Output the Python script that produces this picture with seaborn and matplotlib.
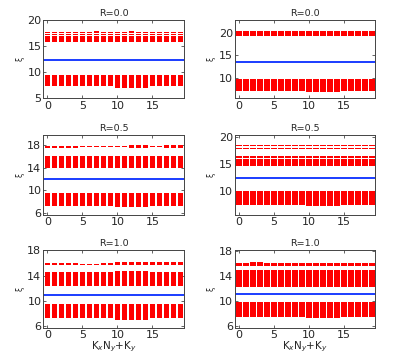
import numpy as np
import pandas as pd
import matplotlib
matplotlib.use("Agg")
import matplotlib.pyplot as plt
import seaborn as sns

sns.set_style("white")
plt.rcParams['font.family'] = ['DejaVu Sans']
plt.rcParams['xtick.direction'] = 'in'
plt.rcParams['ytick.direction'] = 'in'

# momentum index K_x N_y + K_y
k = list(range(20))

titles = ['R=0.0', 'R=0.0', 'R=0.5', 'R=0.5', 'R=1.0', 'R=1.0']
ylims = [(5, 20), (5.3, 23), (5.6, 19.8), (5.5, 20.3), (5.8, 18), (5.7, 18.1)]
yticks = [[5, 10, 15, 20], [10, 15, 20], [6, 10, 14, 18], [10, 15, 20],
          [6, 10, 14, 18], [6, 10, 14, 18]]
gap_level = [12.45, 13.5, 12.05, 12.4, 11.0, 11.15]

# each band: (bottom per k, top per k)
# panel 1 : R=0.0 left
p1_low_bot = [7.3, 7.3, 7.3, 7.3, 7.3, 7.3, 7.3, 7.3, 7.3, 7.3,
              7.0, 7.0, 7.0, 7.0, 7.0, 7.3, 7.3, 7.3, 7.3, 7.3]
p1_low_top = [9.5] * 20
p1_up_bot = [15.8] * 20
p1_up_top = [17.0] * 20
p1_l1_bot = [17.2] * 20
p1_l1_top = [17.35] * 20
p1_l2_bot = [17.5] * 20
p1_l2_top = [17.65, 17.65, 17.65, 17.65, 17.65, 17.65, 17.65, 17.85, 17.65, 17.65,
             17.65, 17.65, 17.85, 17.65, 17.65, 17.65, 17.65, 17.65, 17.65, 17.65]

# panel 2 : R=0.0 right
p2_low_bot = [7.05, 7.05, 7.05, 7.05, 7.05, 7.05, 7.05, 7.05, 7.05, 7.05,
              6.8, 6.8, 6.8, 6.8, 6.8, 7.05, 7.05, 7.05, 7.05, 7.05]
p2_low_top = [9.6] * 20
p2_up_bot = [19.4] * 20
p2_up_top = [20.5] * 20

# panel 3 : R=0.5 left
p3_low_bot = [7.3, 7.3, 7.3, 7.3, 7.3, 7.3, 7.3, 7.3, 7.3, 7.3,
              7.1, 7.1, 7.1, 7.1, 7.1, 7.3, 7.3, 7.3, 7.3, 7.3]
p3_low_top = [9.6] * 20
p3_mid_bot = [14.0] * 20
p3_mid_top = [15.75] * 20
p3_l1_bot = [15.85] * 20
p3_l1_top = [16.1] * 20
p3_l2_bot = [17.55, 17.55, 17.55, 17.55, 17.55, 17.65, 17.65, 17.65, 17.65, 17.65,
             17.65, 17.65, 17.5, 17.5, 17.5, 17.65, 17.65, 17.5, 17.5, 17.5]
p3_l2_top = [17.85, 17.85, 17.85, 17.85, 17.85, 17.85, 17.85, 17.85, 17.85, 17.85,
             17.85, 17.85, 18.05, 18.05, 18.0, 17.85, 17.85, 18.05, 18.1, 18.05]

# panel 4 : R=0.5 right
p4_low_bot = [7.35, 7.35, 7.35, 7.35, 7.35, 7.35, 7.35, 7.35, 7.35, 7.35,
              7.2, 7.2, 7.2, 7.2, 7.2, 7.35, 7.35, 7.35, 7.35, 7.35]
p4_low_top = [9.95] * 20
p4_mid_bot = [14.6] * 20
p4_mid_top = [15.95] * 20
p4_l1_bot = [16.1] * 20
p4_l1_top = [16.45] * 20
p4_l2_bot = [17.8] * 20
p4_l2_top = [17.95] * 20
p4_l3_bot = [18.25] * 20
p4_l3_top = [18.45] * 20

# panel 5 : R=1.0 left
p5_low_bot = [7.3, 7.3, 7.3, 7.3, 7.3, 7.3, 7.3, 7.3, 7.3, 7.3,
              7.0, 7.0, 7.0, 7.0, 7.0, 7.3, 7.3, 7.3, 7.3, 7.3]
p5_low_top = [9.45] * 20
p5_mid_bot = [12.35] * 20
p5_mid_top = [14.5, 14.5, 14.5, 14.5, 14.5, 14.5, 14.5, 14.5, 14.5, 14.5,
              14.7, 14.7, 14.7, 14.7, 14.7, 14.5, 14.5, 14.5, 14.5, 14.5]
p5_l1_bot = [15.7, 15.7, 15.7, 15.7, 15.7, 15.75, 15.75, 15.75, 15.75, 15.75,
             15.75, 15.75, 15.75, 15.75, 15.75, 15.75, 15.75, 15.75, 15.75, 15.75]
p5_l1_top = [15.95, 15.95, 15.95, 15.95, 15.95, 15.9, 15.9, 15.9, 15.95, 15.95,
             16.1, 16.1, 16.1, 16.2, 16.2, 16.1, 16.1, 16.1, 16.1, 16.1]

# panel 6 : R=1.0 right
p6_low_bot = [7.45, 7.45, 7.45, 7.45, 7.45, 7.45, 7.45, 7.45, 7.45, 7.45,
              7.3, 7.3, 7.3, 7.3, 7.3, 7.45, 7.45, 7.45, 7.45, 7.45]
p6_low_top = [9.85] * 20
p6_mid_bot = [12.25] * 20
p6_mid_top = [14.95] * 20
p6_l1_bot = [15.6] * 20
p6_l1_top = [16.1, 16.1, 16.25, 16.25, 16.1, 16.1, 16.1, 16.1, 16.1, 16.1,
             16.1, 16.1, 16.1, 16.1, 16.1, 16.1, 16.1, 16.1, 16.1, 16.1]

panels = [
    [(p1_low_bot, p1_low_top), (p1_up_bot, p1_up_top), (p1_l1_bot, p1_l1_top), (p1_l2_bot, p1_l2_top)],
    [(p2_low_bot, p2_low_top), (p2_up_bot, p2_up_top)],
    [(p3_low_bot, p3_low_top), (p3_mid_bot, p3_mid_top), (p3_l1_bot, p3_l1_top), (p3_l2_bot, p3_l2_top)],
    [(p4_low_bot, p4_low_top), (p4_mid_bot, p4_mid_top), (p4_l1_bot, p4_l1_top),
     (p4_l2_bot, p4_l2_top), (p4_l3_bot, p4_l3_top)],
    [(p5_low_bot, p5_low_top), (p5_mid_bot, p5_mid_top), (p5_l1_bot, p5_l1_top)],
    [(p6_low_bot, p6_low_top), (p6_mid_bot, p6_mid_top), (p6_l1_bot, p6_l1_top)],
]

fig = plt.figure(figsize=(3.99, 3.58), dpi=100)
lefts = [0.109, 0.589]
bottoms = [0.725, 0.399, 0.085]
heights = [0.219, 0.223, 0.216]

for i in range(6):
    r, c = i // 2, i % 2
    ax = fig.add_axes([lefts[c], bottoms[r], 0.352, heights[r]])
    for bot, top in panels[i]:
        df = pd.DataFrame({'k': k, 'bot': bot, 'top': top})
        ax.bar(df['k'], df['top'] - df['bot'], bottom=df['bot'], width=0.8,
               color='#ff0000', edgecolor='none')
    ax.axhline(gap_level[i], color='#1a3cff', linewidth=1.4)
    ax.set_xlim(-0.55, 19.5)
    ax.set_ylim(*ylims[i])
    ax.set_xticks([0, 5, 10, 15])
    ax.set_yticks(yticks[i])
    ax.tick_params(labelsize=8, length=2, width=0.5, pad=1.5,
                   top=True, right=True, bottom=True, left=True)
    for s in ax.spines.values():
        s.set_color('#444444')
        s.set_linewidth(0.7)
    ax.set_title(titles[i], fontsize=6.8, pad=3)
    ax.set_ylabel('ξ', fontsize=5.5, labelpad=2)
    if r == 2:
        ax.set_xlabel('K$_x$N$_y$+K$_y$', fontsize=7.5, labelpad=0)

fig.savefig('out.png', dpi=100)
